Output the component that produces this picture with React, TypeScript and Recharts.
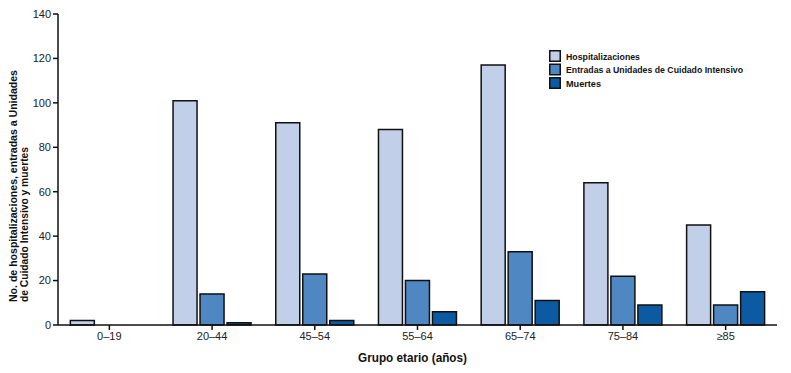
import React from 'react';
import { BarChart, Bar, XAxis, YAxis } from 'recharts';

const categories = ['0–19', '20–44', '45–54', '55–64', '65–74', '75–84', '≥85'];
const hospitalizaciones = [2, 101, 91, 88, 117, 64, 45];
const uci = [0, 14, 23, 20, 33, 22, 9];
const muertes = [0, 1, 2, 6, 11, 9, 15];
const yTicks = [0, 20, 40, 60, 80, 100, 120, 140];
const seriesNames = ['Hospitalizaciones', 'Entradas a Unidades de Cuidado Intensivo', 'Muertes'];
const seriesColors = ['#c1cfe9', '#4f87c2', '#0b5aa2'];
const legendWidths = [74, 177, 35];

const data = categories.map((c, i) => ({
  cat: c,
  hosp: hospitalizaciones[i],
  uci: uci[i],
  muertes: muertes[i],
}));

const FONT = '"Liberation Sans", Arial, sans-serif';
const TICKFONT = '"Liberation Sans", Arial, sans-serif';

const YLabel = (props: any) => {
  const vb = props.viewBox || { x: 0, y: 0, width: 0, height: 0 };
  const yStart = vb.y + vb.height - 23;
  return (
    <g>
      <text
        x={17}
        y={yStart}
        transform={`rotate(-90, 17, ${yStart})`}
        textAnchor="start"
        fontFamily={FONT}
        fontWeight="bold"
        fontSize={11}
        fill="#111"
        textLength={232}
        lengthAdjust="spacingAndGlyphs"
      >
        No. de hospitalizaciones, entradas a Unidades
      </text>
      <text
        x={28}
        y={yStart}
        transform={`rotate(-90, 28, ${yStart})`}
        textAnchor="start"
        fontFamily={FONT}
        fontWeight="bold"
        fontSize={11}
        fill="#111"
        textLength={155}
        lengthAdjust="spacingAndGlyphs"
      >
        de Cuidado Intensivo y muertes
      </text>
    </g>
  );
};

const XLabel = (props: any) => {
  const vb = props.viewBox || { x: 0, y: 0, width: 0, height: 0 };
  return (
    <text
      x={358}
      y={vb.y + 37}
      fontFamily={FONT}
      fontWeight="bold"
      fontSize={12.5}
      fill="#111"
      textLength={109}
      lengthAdjust="spacingAndGlyphs"
    >
      Grupo etario (años)
    </text>
  );
};

export default function App() {
  return (
    <div style={{ position: 'relative', marginLeft: -8, marginTop: -8, width: 791, height: 373, background: '#fff' }}>
      <BarChart
        width={791}
        height={373}
        data={data}
        margin={{ top: 14, right: 14, left: 0, bottom: 0 }}
        barCategoryGap="12%"
        barGap={3}
      >
        <XAxis
          dataKey="cat"
          axisLine={{ stroke: '#111', strokeWidth: 1.5 }}
          tickLine={{ stroke: '#111', strokeWidth: 1.5 }}
          tickSize={5}
          tick={{ fontFamily: TICKFONT, fontSize: 11, fill: '#222' }}
          height={48}
          label={<XLabel />}
        />
        <XAxis
          xAxisId="top"
          dataKey="cat"
          orientation="top"
          height={0}
          tick={false}
          tickLine={false}
          axisLine={{ stroke: '#111', strokeWidth: 1.5 }}
        />
        <YAxis
          domain={[0, 140]}
          ticks={yTicks}
          width={58}
          axisLine={{ stroke: '#111', strokeWidth: 1.5 }}
          tickLine={{ stroke: '#111', strokeWidth: 1.5 }}
          tickSize={5}
          tick={{ fontFamily: TICKFONT, fontSize: 11, fill: '#222' }}
          label={<YLabel />}
        />
        <YAxis
          yAxisId="right"
          orientation="right"
          width={0}
          tick={false}
          tickLine={false}
          axisLine={{ stroke: '#111', strokeWidth: 1.5 }}
        />
        <Bar dataKey="hosp" fill={seriesColors[0]} stroke="#111" strokeWidth={1.5} isAnimationActive={false} />
        <Bar dataKey="uci" fill={seriesColors[1]} stroke="#111" strokeWidth={1.5} isAnimationActive={false} />
        <Bar dataKey="muertes" fill={seriesColors[2]} stroke="#111" strokeWidth={1.5} isAnimationActive={false} />
      </BarChart>
      <svg
        width={240}
        height={50}
        style={{ position: 'absolute', left: 545, top: 46 }}
      >
        {seriesNames.map((n, i) => (
          <g key={n}>
            <rect
              x={4.75}
              y={4.75 + i * 13.5}
              width={10.5}
              height={10.5}
              fill={seriesColors[i]}
              stroke="#111"
              strokeWidth={1.5}
            />
            <text
              x={21}
              y={13.5 + i * 13.5}
              fontFamily={FONT}
              fontWeight="bold"
              fontSize={9.5}
              fill="#111"
              textLength={legendWidths[i]}
              lengthAdjust="spacingAndGlyphs"
            >
              {n}
            </text>
          </g>
        ))}
      </svg>
    </div>
  );
}
